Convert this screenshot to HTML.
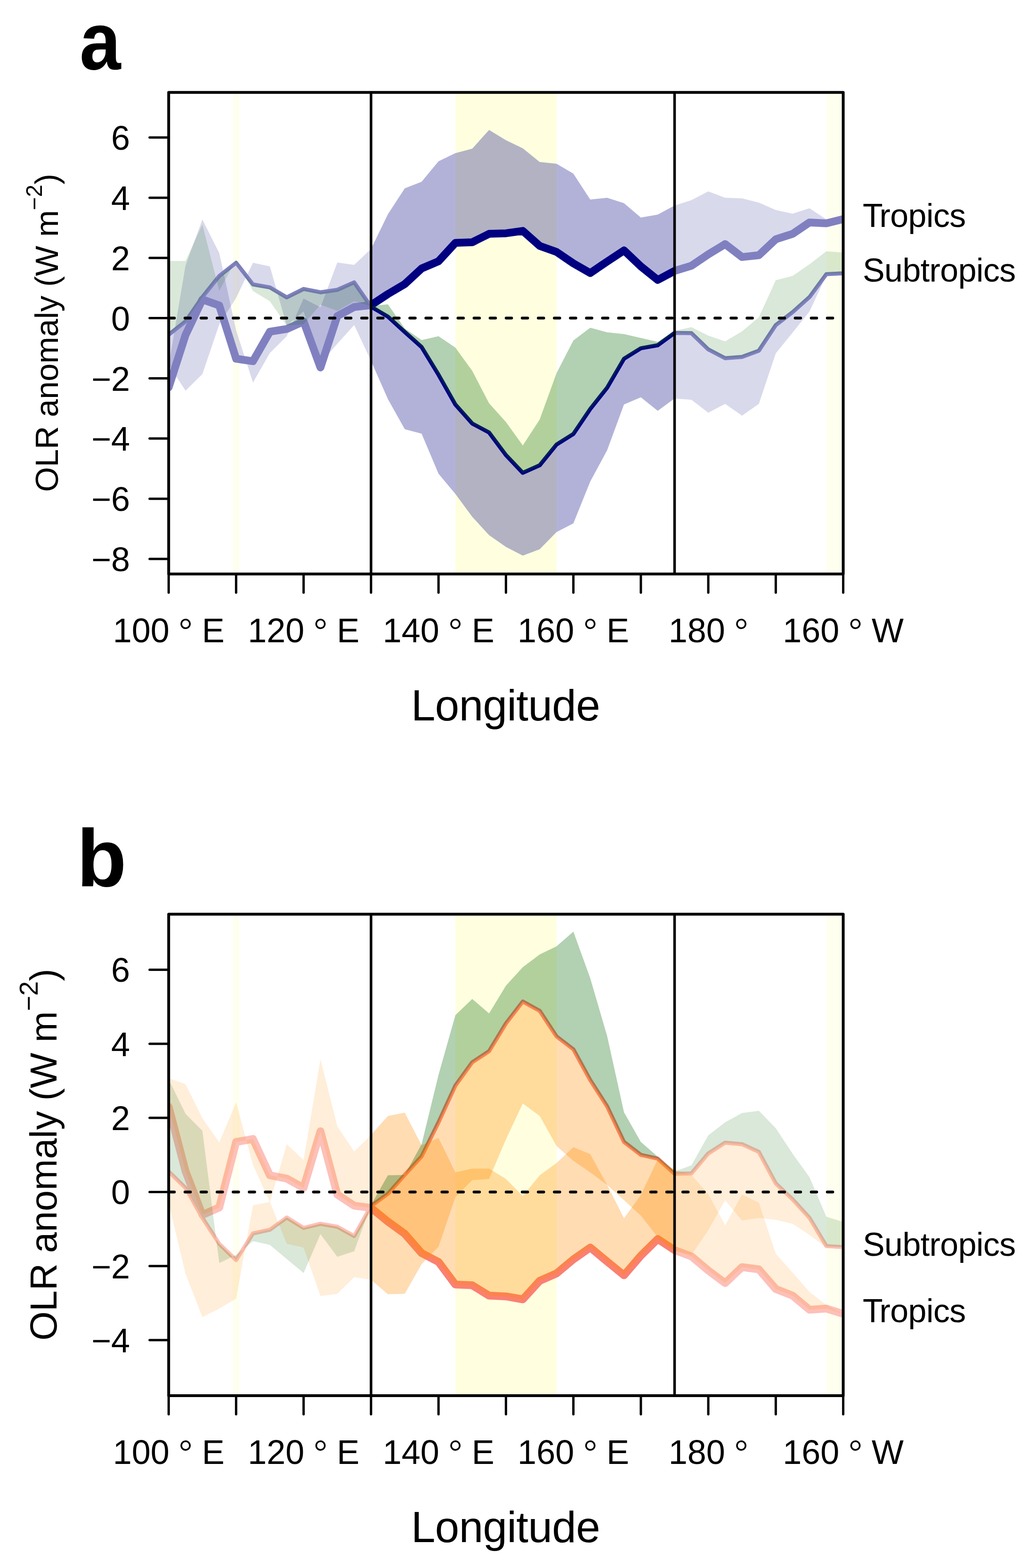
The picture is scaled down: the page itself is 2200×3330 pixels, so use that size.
<!DOCTYPE html><html><head><meta charset="utf-8"><title>OLR anomaly</title><style>html,body{margin:0;padding:0;background:#fff;overflow:hidden}svg{display:block}</style></head><body>
<svg xmlns="http://www.w3.org/2000/svg" width="2200" height="3330" viewBox="0 0 2200 3330" font-family="'Liberation Sans', Arial, Helvetica, sans-serif">
<rect width="2200" height="3330" fill="#fff"/>
<defs>
<clipPath id="ca"><rect x="358.2" y="196.2" width="1432.4" height="1022.8"/></clipPath>
<clipPath id="ia"><rect x="787.9" y="196.2" width="644.6" height="1022.8"/></clipPath>
<clipPath id="oa"><path d="M358.2,196.2H787.9V1219H358.2ZM1432.5,196.2H1790.6V1219H1432.5Z"/></clipPath>
<clipPath id="cb"><rect x="358.2" y="1941.4" width="1432.4" height="1022.6"/></clipPath>
<clipPath id="ib"><rect x="787.9" y="1941.4" width="644.6" height="1022.6"/></clipPath>
<clipPath id="ob"><path d="M358.2,1941.4H787.9V2964H358.2ZM1432.5,1941.4H1790.6V2964H1432.5Z"/></clipPath>
</defs>
<g clip-path="url(#ca)">
<rect x="967" y="196.2" width="214.9" height="1022.8" fill="#ffffe0"/>
<rect x="494.3" y="196.2" width="14.3" height="1022.8" fill="#ffffe0" fill-opacity="0.5"/>
<rect x="1754.8" y="196.2" width="40.8" height="1022.8" fill="#ffffe0" fill-opacity="0.5"/>
<g clip-path="url(#oa)">
<path d="M358.2,822.7 L394,711.4 L429.8,636 L465.6,648.8 L501.4,761.9 L537.2,767.1 L573.1,704.4 L608.9,698.7 L644.7,682.7 L680.5,780.5 L716.3,671.2 L752.1,652 L787.9,648.1 L823.7,624.5 L859.5,603.4 L895.3,570.2 L931.2,554.8 L967,515.8 L1002.8,514.5 L1038.6,496.6 L1074.4,495.4 L1110.2,490.3 L1146,522.2 L1181.8,535 L1217.6,559.3 L1253.4,579.8 L1289.3,555.5 L1325.1,531.8 L1360.9,565.7 L1396.7,594.5 L1432.5,575.3 L1468.3,564.4 L1504.1,540.1 L1539.9,518.4 L1575.7,545.9 L1611.5,542 L1647.4,508.2 L1683.2,496.6 L1719,472.4 L1754.8,474.3 L1790.6,465.3 L1790.6,465.3 L1754.8,466 L1719,442.3 L1683.2,453.8 L1647.4,446.1 L1611.5,430.2 L1575.7,421.2 L1539.9,419.9 L1504.1,406.5 L1468.3,425.1 L1432.5,436.6 L1396.7,455.7 L1360.9,462.1 L1325.1,431.4 L1289.3,419.9 L1253.4,423.8 L1217.6,368.8 L1181.8,347.7 L1146,343.9 L1110.2,315.1 L1074.4,297.8 L1038.6,276.1 L1002.8,315.7 L967,325.3 L931.2,342.6 L895.3,386.1 L859.5,400.1 L823.7,455.1 L787.9,528.6 L752.1,562.5 L716.3,557.4 L680.5,652.6 L644.7,634.1 L608.9,714 L573.1,749.8 L537.2,812.4 L501.4,701.2 L465.6,537.6 L429.8,466 L394,563.8 L358.2,776Z" fill="#000080" fill-opacity="0.15"/>
<path d="M358.2,710.8 L394,682.7 L429.8,630.9 L465.6,586.1 L501.4,558 L537.2,604 L573.1,610.4 L608.9,631.5 L644.7,613.6 L680.5,620.7 L716.3,615.5 L752.1,599.6 L787.9,651.3 L823.7,672.4 L859.5,705 L895.3,737 L931.2,795.8 L967,859.1 L1002.8,899.4 L1038.6,918.6 L1074.4,966.5 L1110.2,1004.2 L1146,988.2 L1181.8,944.1 L1217.6,921.7 L1253.4,868.7 L1289.3,823.3 L1325.1,761.9 L1360.9,739.6 L1396.7,733.2 L1432.5,707 L1468.3,707.6 L1504.1,742.1 L1539.9,760.7 L1575.7,758.1 L1611.5,744.7 L1647.4,690.3 L1683.2,662.9 L1719,630.9 L1754.8,582.3 L1790.6,580.4 L1790.6,582.9 L1754.8,584.9 L1719,661.6 L1683.2,706.3 L1647.4,750.4 L1611.5,857.8 L1575.7,882.8 L1539.9,857.8 L1504.1,876.4 L1468.3,848.9 L1432.5,846.3 L1396.7,872.5 L1360.9,843.8 L1325.1,859.1 L1289.3,956.3 L1253.4,1022.8 L1217.6,1111.6 L1181.8,1130.1 L1146,1166.6 L1110.2,1180 L1074.4,1161.5 L1038.6,1136.5 L1002.8,1097.5 L967,1049 L931.2,1006.1 L895.3,921.1 L859.5,911.5 L823.7,847.6 L787.9,766.4 L752.1,690.3 L716.3,730 L680.5,771.5 L644.7,661.6 L608.9,691.6 L573.1,565.7 L537.2,558 L501.4,632.8 L465.6,689.1 L429.8,794.5 L394,829.7 L358.2,774.7Z" fill="#000080" fill-opacity="0.15"/>
</g>
<g clip-path="url(#ia)">
<path d="M358.2,822.7 L394,711.4 L429.8,636 L465.6,648.8 L501.4,761.9 L537.2,767.1 L573.1,704.4 L608.9,698.7 L644.7,682.7 L680.5,780.5 L716.3,671.2 L752.1,652 L787.9,648.1 L823.7,624.5 L859.5,603.4 L895.3,570.2 L931.2,554.8 L967,515.8 L1002.8,514.5 L1038.6,496.6 L1074.4,495.4 L1110.2,490.3 L1146,522.2 L1181.8,535 L1217.6,559.3 L1253.4,579.8 L1289.3,555.5 L1325.1,531.8 L1360.9,565.7 L1396.7,594.5 L1432.5,575.3 L1468.3,564.4 L1504.1,540.1 L1539.9,518.4 L1575.7,545.9 L1611.5,542 L1647.4,508.2 L1683.2,496.6 L1719,472.4 L1754.8,474.3 L1790.6,465.3 L1790.6,465.3 L1754.8,466 L1719,442.3 L1683.2,453.8 L1647.4,446.1 L1611.5,430.2 L1575.7,421.2 L1539.9,419.9 L1504.1,406.5 L1468.3,425.1 L1432.5,436.6 L1396.7,455.7 L1360.9,462.1 L1325.1,431.4 L1289.3,419.9 L1253.4,423.8 L1217.6,368.8 L1181.8,347.7 L1146,343.9 L1110.2,315.1 L1074.4,297.8 L1038.6,276.1 L1002.8,315.7 L967,325.3 L931.2,342.6 L895.3,386.1 L859.5,400.1 L823.7,455.1 L787.9,528.6 L752.1,562.5 L716.3,557.4 L680.5,652.6 L644.7,634.1 L608.9,714 L573.1,749.8 L537.2,812.4 L501.4,701.2 L465.6,537.6 L429.8,466 L394,563.8 L358.2,776Z" fill="#000080" fill-opacity="0.3"/>
<path d="M358.2,710.8 L394,682.7 L429.8,630.9 L465.6,586.1 L501.4,558 L537.2,604 L573.1,610.4 L608.9,631.5 L644.7,613.6 L680.5,620.7 L716.3,615.5 L752.1,599.6 L787.9,651.3 L823.7,672.4 L859.5,705 L895.3,737 L931.2,795.8 L967,859.1 L1002.8,899.4 L1038.6,918.6 L1074.4,966.5 L1110.2,1004.2 L1146,988.2 L1181.8,944.1 L1217.6,921.7 L1253.4,868.7 L1289.3,823.3 L1325.1,761.9 L1360.9,739.6 L1396.7,733.2 L1432.5,707 L1468.3,707.6 L1504.1,742.1 L1539.9,760.7 L1575.7,758.1 L1611.5,744.7 L1647.4,690.3 L1683.2,662.9 L1719,630.9 L1754.8,582.3 L1790.6,580.4 L1790.6,582.9 L1754.8,584.9 L1719,661.6 L1683.2,706.3 L1647.4,750.4 L1611.5,857.8 L1575.7,882.8 L1539.9,857.8 L1504.1,876.4 L1468.3,848.9 L1432.5,846.3 L1396.7,872.5 L1360.9,843.8 L1325.1,859.1 L1289.3,956.3 L1253.4,1022.8 L1217.6,1111.6 L1181.8,1130.1 L1146,1166.6 L1110.2,1180 L1074.4,1161.5 L1038.6,1136.5 L1002.8,1097.5 L967,1049 L931.2,1006.1 L895.3,921.1 L859.5,911.5 L823.7,847.6 L787.9,766.4 L752.1,690.3 L716.3,730 L680.5,771.5 L644.7,661.6 L608.9,691.6 L573.1,565.7 L537.2,558 L501.4,632.8 L465.6,689.1 L429.8,794.5 L394,829.7 L358.2,774.7Z" fill="#000080" fill-opacity="0.3"/>
</g>
<g clip-path="url(#oa)">
<path d="M358.2,822.7 L394,711.4 L429.8,636 L465.6,648.8 L501.4,761.9 L537.2,767.1 L573.1,704.4 L608.9,698.7 L644.7,682.7 L680.5,780.5 L716.3,671.2 L752.1,652 L787.9,648.1 L823.7,624.5 L859.5,603.4 L895.3,570.2 L931.2,554.8 L967,515.8 L1002.8,514.5 L1038.6,496.6 L1074.4,495.4 L1110.2,490.3 L1146,522.2 L1181.8,535 L1217.6,559.3 L1253.4,579.8 L1289.3,555.5 L1325.1,531.8 L1360.9,565.7 L1396.7,594.5 L1432.5,575.3 L1468.3,564.4 L1504.1,540.1 L1539.9,518.4 L1575.7,545.9 L1611.5,542 L1647.4,508.2 L1683.2,496.6 L1719,472.4 L1754.8,474.3 L1790.6,465.3" fill="none" stroke="#8080c0" stroke-width="16.5" stroke-linejoin="round" stroke-linecap="round"/>
<path d="M358.2,710.8 L394,682.7 L429.8,630.9 L465.6,586.1 L501.4,558 L537.2,604 L573.1,610.4 L608.9,631.5 L644.7,613.6 L680.5,620.7 L716.3,615.5 L752.1,599.6 L787.9,651.3 L823.7,672.4 L859.5,705 L895.3,737 L931.2,795.8 L967,859.1 L1002.8,899.4 L1038.6,918.6 L1074.4,966.5 L1110.2,1004.2 L1146,988.2 L1181.8,944.1 L1217.6,921.7 L1253.4,868.7 L1289.3,823.3 L1325.1,761.9 L1360.9,739.6 L1396.7,733.2 L1432.5,707 L1468.3,707.6 L1504.1,742.1 L1539.9,760.7 L1575.7,758.1 L1611.5,744.7 L1647.4,690.3 L1683.2,662.9 L1719,630.9 L1754.8,582.3 L1790.6,580.4" fill="none" stroke="#8080c0" stroke-width="8.5" stroke-linejoin="round" stroke-linecap="round"/>
</g>
<g clip-path="url(#ia)">
<path d="M358.2,822.7 L394,711.4 L429.8,636 L465.6,648.8 L501.4,761.9 L537.2,767.1 L573.1,704.4 L608.9,698.7 L644.7,682.7 L680.5,780.5 L716.3,671.2 L752.1,652 L787.9,648.1 L823.7,624.5 L859.5,603.4 L895.3,570.2 L931.2,554.8 L967,515.8 L1002.8,514.5 L1038.6,496.6 L1074.4,495.4 L1110.2,490.3 L1146,522.2 L1181.8,535 L1217.6,559.3 L1253.4,579.8 L1289.3,555.5 L1325.1,531.8 L1360.9,565.7 L1396.7,594.5 L1432.5,575.3 L1468.3,564.4 L1504.1,540.1 L1539.9,518.4 L1575.7,545.9 L1611.5,542 L1647.4,508.2 L1683.2,496.6 L1719,472.4 L1754.8,474.3 L1790.6,465.3" fill="none" stroke="#000080" stroke-width="16.5" stroke-linejoin="round" stroke-linecap="round"/>
<path d="M358.2,710.8 L394,682.7 L429.8,630.9 L465.6,586.1 L501.4,558 L537.2,604 L573.1,610.4 L608.9,631.5 L644.7,613.6 L680.5,620.7 L716.3,615.5 L752.1,599.6 L787.9,651.3 L823.7,672.4 L859.5,705 L895.3,737 L931.2,795.8 L967,859.1 L1002.8,899.4 L1038.6,918.6 L1074.4,966.5 L1110.2,1004.2 L1146,988.2 L1181.8,944.1 L1217.6,921.7 L1253.4,868.7 L1289.3,823.3 L1325.1,761.9 L1360.9,739.6 L1396.7,733.2 L1432.5,707 L1468.3,707.6 L1504.1,742.1 L1539.9,760.7 L1575.7,758.1 L1611.5,744.7 L1647.4,690.3 L1683.2,662.9 L1719,630.9 L1754.8,582.3 L1790.6,580.4" fill="none" stroke="#000080" stroke-width="8.5" stroke-linejoin="round" stroke-linecap="round"/>
</g>
<g clip-path="url(#oa)">
<path d="M358.2,710.8 L394,682.7 L429.8,630.9 L465.6,586.1 L501.4,558 L537.2,604 L573.1,610.4 L608.9,631.5 L644.7,613.6 L680.5,620.7 L716.3,615.5 L752.1,599.6 L787.9,651.3 L823.7,672.4 L859.5,705 L895.3,737 L931.2,795.8 L967,859.1 L1002.8,899.4 L1038.6,918.6 L1074.4,966.5 L1110.2,1004.2 L1146,988.2 L1181.8,944.1 L1217.6,921.7 L1253.4,868.7 L1289.3,823.3 L1325.1,761.9 L1360.9,739.6 L1396.7,733.2 L1432.5,707 L1468.3,707.6 L1504.1,742.1 L1539.9,760.7 L1575.7,758.1 L1611.5,744.7 L1647.4,690.3 L1683.2,662.9 L1719,630.9 L1754.8,582.3 L1790.6,580.4 L1790.6,536.3 L1754.8,533.7 L1719,561.2 L1683.2,586.1 L1647.4,595.1 L1611.5,673.7 L1575.7,703.8 L1539.9,724.9 L1504.1,712.7 L1468.3,694.8 L1432.5,702.5 L1396.7,726.1 L1360.9,717.8 L1325.1,709.5 L1289.3,705.7 L1253.4,696.1 L1217.6,722.9 L1181.8,792.6 L1146,891.1 L1110.2,946 L1074.4,896.2 L1038.6,856.5 L1002.8,787.5 L967,738.3 L931.2,714 L895.3,722.3 L859.5,697.4 L823.7,646.2 L787.9,650.1 L752.1,639.8 L716.3,660.3 L680.5,646.9 L644.7,688.4 L608.9,691.6 L573.1,639.8 L537.2,618.1 L501.4,551.6 L465.6,617.5 L429.8,476.8 L394,554.2 L358.2,554.2Z" fill="#006400" fill-opacity="0.15"/>
</g>
<g clip-path="url(#ia)">
<path d="M358.2,710.8 L394,682.7 L429.8,630.9 L465.6,586.1 L501.4,558 L537.2,604 L573.1,610.4 L608.9,631.5 L644.7,613.6 L680.5,620.7 L716.3,615.5 L752.1,599.6 L787.9,651.3 L823.7,672.4 L859.5,705 L895.3,737 L931.2,795.8 L967,859.1 L1002.8,899.4 L1038.6,918.6 L1074.4,966.5 L1110.2,1004.2 L1146,988.2 L1181.8,944.1 L1217.6,921.7 L1253.4,868.7 L1289.3,823.3 L1325.1,761.9 L1360.9,739.6 L1396.7,733.2 L1432.5,707 L1468.3,707.6 L1504.1,742.1 L1539.9,760.7 L1575.7,758.1 L1611.5,744.7 L1647.4,690.3 L1683.2,662.9 L1719,630.9 L1754.8,582.3 L1790.6,580.4 L1790.6,536.3 L1754.8,533.7 L1719,561.2 L1683.2,586.1 L1647.4,595.1 L1611.5,673.7 L1575.7,703.8 L1539.9,724.9 L1504.1,712.7 L1468.3,694.8 L1432.5,702.5 L1396.7,726.1 L1360.9,717.8 L1325.1,709.5 L1289.3,705.7 L1253.4,696.1 L1217.6,722.9 L1181.8,792.6 L1146,891.1 L1110.2,946 L1074.4,896.2 L1038.6,856.5 L1002.8,787.5 L967,738.3 L931.2,714 L895.3,722.3 L859.5,697.4 L823.7,646.2 L787.9,650.1 L752.1,639.8 L716.3,660.3 L680.5,646.9 L644.7,688.4 L608.9,691.6 L573.1,639.8 L537.2,618.1 L501.4,551.6 L465.6,617.5 L429.8,476.8 L394,554.2 L358.2,554.2Z" fill="#006400" fill-opacity="0.3"/>
</g>
<line x1="358.7" y1="675.6" x2="1790.6" y2="675.6" stroke="#000" stroke-width="6" stroke-dasharray="11.6 22.5" stroke-linecap="round"/>
</g>
<line x1="787.9" y1="196.2" x2="787.9" y2="1219" stroke="#000" stroke-width="5.5"/>
<line x1="1432.5" y1="196.2" x2="1432.5" y2="1219" stroke="#000" stroke-width="5.5"/>
<rect x="358.2" y="196.2" width="1432.4" height="1022.8" fill="none" stroke="#000" stroke-width="6" stroke-linejoin="round"/>
<line x1="317.7" y1="292.1" x2="358.2" y2="292.1" stroke="#000" stroke-width="5" stroke-linecap="round"/>
<text x="276" y="318.1" font-size="72" text-anchor="end">6</text>
<line x1="317.7" y1="419.9" x2="358.2" y2="419.9" stroke="#000" stroke-width="5" stroke-linecap="round"/>
<text x="276" y="445.9" font-size="72" text-anchor="end">4</text>
<line x1="317.7" y1="547.8" x2="358.2" y2="547.8" stroke="#000" stroke-width="5" stroke-linecap="round"/>
<text x="276" y="573.8" font-size="72" text-anchor="end">2</text>
<line x1="317.7" y1="675.6" x2="358.2" y2="675.6" stroke="#000" stroke-width="5" stroke-linecap="round"/>
<text x="276" y="701.6" font-size="72" text-anchor="end">0</text>
<line x1="317.7" y1="803.5" x2="358.2" y2="803.5" stroke="#000" stroke-width="5" stroke-linecap="round"/>
<text x="276" y="829.5" font-size="72" text-anchor="end">−2</text>
<line x1="317.7" y1="931.3" x2="358.2" y2="931.3" stroke="#000" stroke-width="5" stroke-linecap="round"/>
<text x="276" y="957.3" font-size="72" text-anchor="end">−4</text>
<line x1="317.7" y1="1059.2" x2="358.2" y2="1059.2" stroke="#000" stroke-width="5" stroke-linecap="round"/>
<text x="276" y="1085.2" font-size="72" text-anchor="end">−6</text>
<line x1="317.7" y1="1187" x2="358.2" y2="1187" stroke="#000" stroke-width="5" stroke-linecap="round"/>
<text x="276" y="1213" font-size="72" text-anchor="end">−8</text>
<line x1="358.2" y1="1219" x2="358.2" y2="1258.5" stroke="#000" stroke-width="5" stroke-linecap="round"/>
<line x1="501.4" y1="1219" x2="501.4" y2="1258.5" stroke="#000" stroke-width="5" stroke-linecap="round"/>
<line x1="644.7" y1="1219" x2="644.7" y2="1258.5" stroke="#000" stroke-width="5" stroke-linecap="round"/>
<line x1="787.9" y1="1219" x2="787.9" y2="1258.5" stroke="#000" stroke-width="5" stroke-linecap="round"/>
<line x1="931.2" y1="1219" x2="931.2" y2="1258.5" stroke="#000" stroke-width="5" stroke-linecap="round"/>
<line x1="1074.4" y1="1219" x2="1074.4" y2="1258.5" stroke="#000" stroke-width="5" stroke-linecap="round"/>
<line x1="1217.6" y1="1219" x2="1217.6" y2="1258.5" stroke="#000" stroke-width="5" stroke-linecap="round"/>
<line x1="1360.9" y1="1219" x2="1360.9" y2="1258.5" stroke="#000" stroke-width="5" stroke-linecap="round"/>
<line x1="1504.1" y1="1219" x2="1504.1" y2="1258.5" stroke="#000" stroke-width="5" stroke-linecap="round"/>
<line x1="1647.4" y1="1219" x2="1647.4" y2="1258.5" stroke="#000" stroke-width="5" stroke-linecap="round"/>
<line x1="1790.6" y1="1219" x2="1790.6" y2="1258.5" stroke="#000" stroke-width="5" stroke-linecap="round"/>
<text x="358.2" y="1364.2" font-size="72" text-anchor="middle">100 <tspan font-family="'Liberation Serif', serif" dy="-2.5">°</tspan><tspan dy="2.5"> E</tspan></text>
<text x="644.7" y="1364.2" font-size="72" text-anchor="middle">120 <tspan font-family="'Liberation Serif', serif" dy="-2.5">°</tspan><tspan dy="2.5"> E</tspan></text>
<text x="931.2" y="1364.2" font-size="72" text-anchor="middle">140 <tspan font-family="'Liberation Serif', serif" dy="-2.5">°</tspan><tspan dy="2.5"> E</tspan></text>
<text x="1217.6" y="1364.2" font-size="72" text-anchor="middle">160 <tspan font-family="'Liberation Serif', serif" dy="-2.5">°</tspan><tspan dy="2.5"> E</tspan></text>
<text x="1504.1" y="1364.2" font-size="72" text-anchor="middle">180 <tspan font-family="'Liberation Serif', serif" dy="-2.5">°</tspan><tspan dy="2.5"></tspan></text>
<text x="1790.6" y="1364.2" font-size="72" text-anchor="middle">160 <tspan font-family="'Liberation Serif', serif" dy="-2.5">°</tspan><tspan dy="2.5"> W</tspan></text>
<text x="1073.5" y="1529.6" font-size="92.5" text-anchor="middle" letter-spacing="-0.6">Longitude</text>
<g clip-path="url(#cb)">
<rect x="967" y="1941.4" width="214.9" height="1022.6" fill="#ffffe0"/>
<rect x="494.3" y="1941.4" width="14.3" height="1022.6" fill="#ffffe0" fill-opacity="0.5"/>
<rect x="1754.8" y="1941.4" width="40.8" height="1022.6" fill="#ffffe0" fill-opacity="0.5"/>
<g clip-path="url(#ob)">
<path d="M358.2,2350.4 L394,2487.3 L429.8,2580.1 L465.6,2564.4 L501.4,2425.2 L537.2,2418.9 L573.1,2496 L608.9,2503 L644.7,2522.7 L680.5,2402.4 L716.3,2536.9 L752.1,2560.5 L787.9,2565.2 L823.7,2594.3 L859.5,2620.2 L895.3,2661.2 L931.2,2680 L967,2728 L1002.8,2729.6 L1038.6,2751.6 L1074.4,2753.2 L1110.2,2759.5 L1146,2720.1 L1181.8,2704.4 L1217.6,2674.5 L1253.4,2649.4 L1289.3,2679.2 L1325.1,2708.3 L1360.9,2666.7 L1396.7,2631.3 L1432.5,2654.9 L1468.3,2668.2 L1504.1,2698.1 L1539.9,2724.9 L1575.7,2691 L1611.5,2695.8 L1647.4,2737.5 L1683.2,2751.6 L1719,2781.5 L1754.8,2779.1 L1790.6,2790.2" fill="none" stroke="#fdc0b9" stroke-width="16.5" stroke-linejoin="round" stroke-linecap="round"/>
<path d="M358.2,2488.1 L394,2522.7 L429.8,2586.4 L465.6,2641.5 L501.4,2676.1 L537.2,2619.5 L573.1,2611.6 L608.9,2585.6 L644.7,2607.7 L680.5,2599 L716.3,2605.3 L752.1,2625 L787.9,2561.3 L823.7,2535.3 L859.5,2495.2 L895.3,2455.8 L931.2,2383.5 L967,2305.6 L1002.8,2256 L1038.6,2232.4 L1074.4,2173.5 L1110.2,2127 L1146,2146.7 L1181.8,2201 L1217.6,2228.5 L1253.4,2293.8 L1289.3,2349.7 L1325.1,2425.2 L1360.9,2452.7 L1396.7,2460.6 L1432.5,2492.8 L1468.3,2492 L1504.1,2449.6 L1539.9,2426.7 L1575.7,2429.9 L1611.5,2446.4 L1647.4,2513.3 L1683.2,2547.1 L1719,2586.4 L1754.8,2646.2 L1790.6,2648.6" fill="none" stroke="#fdc0b9" stroke-width="8.5" stroke-linejoin="round" stroke-linecap="round"/>
</g>
<g clip-path="url(#ib)">
<path d="M358.2,2350.4 L394,2487.3 L429.8,2580.1 L465.6,2564.4 L501.4,2425.2 L537.2,2418.9 L573.1,2496 L608.9,2503 L644.7,2522.7 L680.5,2402.4 L716.3,2536.9 L752.1,2560.5 L787.9,2565.2 L823.7,2594.3 L859.5,2620.2 L895.3,2661.2 L931.2,2680 L967,2728 L1002.8,2729.6 L1038.6,2751.6 L1074.4,2753.2 L1110.2,2759.5 L1146,2720.1 L1181.8,2704.4 L1217.6,2674.5 L1253.4,2649.4 L1289.3,2679.2 L1325.1,2708.3 L1360.9,2666.7 L1396.7,2631.3 L1432.5,2654.9 L1468.3,2668.2 L1504.1,2698.1 L1539.9,2724.9 L1575.7,2691 L1611.5,2695.8 L1647.4,2737.5 L1683.2,2751.6 L1719,2781.5 L1754.8,2779.1 L1790.6,2790.2" fill="none" stroke="#fa8072" stroke-width="16.5" stroke-linejoin="round" stroke-linecap="round"/>
<path d="M358.2,2488.1 L394,2522.7 L429.8,2586.4 L465.6,2641.5 L501.4,2676.1 L537.2,2619.5 L573.1,2611.6 L608.9,2585.6 L644.7,2607.7 L680.5,2599 L716.3,2605.3 L752.1,2625 L787.9,2561.3 L823.7,2535.3 L859.5,2495.2 L895.3,2455.8 L931.2,2383.5 L967,2305.6 L1002.8,2256 L1038.6,2232.4 L1074.4,2173.5 L1110.2,2127 L1146,2146.7 L1181.8,2201 L1217.6,2228.5 L1253.4,2293.8 L1289.3,2349.7 L1325.1,2425.2 L1360.9,2452.7 L1396.7,2460.6 L1432.5,2492.8 L1468.3,2492 L1504.1,2449.6 L1539.9,2426.7 L1575.7,2429.9 L1611.5,2446.4 L1647.4,2513.3 L1683.2,2547.1 L1719,2586.4 L1754.8,2646.2 L1790.6,2648.6" fill="none" stroke="#fa8072" stroke-width="8.5" stroke-linejoin="round" stroke-linecap="round"/>
</g>
<g clip-path="url(#ob)">
<path d="M358.2,2350.4 L394,2487.3 L429.8,2580.1 L465.6,2564.4 L501.4,2425.2 L537.2,2418.9 L573.1,2496 L608.9,2503 L644.7,2522.7 L680.5,2402.4 L716.3,2536.9 L752.1,2560.5 L787.9,2565.2 L823.7,2594.3 L859.5,2620.2 L895.3,2661.2 L931.2,2680 L967,2728 L1002.8,2729.6 L1038.6,2751.6 L1074.4,2753.2 L1110.2,2759.5 L1146,2720.1 L1181.8,2704.4 L1217.6,2674.5 L1253.4,2649.4 L1289.3,2679.2 L1325.1,2708.3 L1360.9,2666.7 L1396.7,2631.3 L1432.5,2654.9 L1468.3,2668.2 L1504.1,2698.1 L1539.9,2724.9 L1575.7,2691 L1611.5,2695.8 L1647.4,2737.5 L1683.2,2751.6 L1719,2781.5 L1754.8,2779.1 L1790.6,2790.2 L1790.6,2790.9 L1754.8,2771.3 L1719,2743.7 L1683.2,2702.8 L1647.4,2662.7 L1611.5,2554.2 L1575.7,2536.9 L1539.9,2602.2 L1504.1,2536.1 L1468.3,2495.2 L1432.5,2484.2 L1396.7,2462.1 L1360.9,2537.7 L1325.1,2587.2 L1289.3,2516.4 L1253.4,2451.1 L1217.6,2436.2 L1181.8,2470 L1146,2496 L1110.2,2540 L1074.4,2503.8 L1038.6,2481.8 L1002.8,2481.8 L967,2489.7 L931.2,2416.5 L895.3,2432.2 L859.5,2363 L823.7,2370.1 L787.9,2410.2 L752.1,2445.6 L716.3,2392.1 L680.5,2249.8 L644.7,2463.7 L608.9,2429.9 L573.1,2553.4 L537.2,2473.9 L501.4,2341 L465.6,2426 L429.8,2374.8 L394,2302.5 L358.2,2289.9Z" fill="#ff8c00" fill-opacity="0.15"/>
<path d="M358.2,2488.1 L394,2522.7 L429.8,2586.4 L465.6,2641.5 L501.4,2676.1 L537.2,2619.5 L573.1,2611.6 L608.9,2585.6 L644.7,2607.7 L680.5,2599 L716.3,2605.3 L752.1,2625 L787.9,2561.3 L823.7,2535.3 L859.5,2495.2 L895.3,2455.8 L931.2,2383.5 L967,2305.6 L1002.8,2256 L1038.6,2232.4 L1074.4,2173.5 L1110.2,2127 L1146,2146.7 L1181.8,2201 L1217.6,2228.5 L1253.4,2293.8 L1289.3,2349.7 L1325.1,2425.2 L1360.9,2452.7 L1396.7,2460.6 L1432.5,2492.8 L1468.3,2492 L1504.1,2449.6 L1539.9,2426.7 L1575.7,2429.9 L1611.5,2446.4 L1647.4,2513.3 L1683.2,2547.1 L1719,2586.4 L1754.8,2646.2 L1790.6,2648.6 L1790.6,2647.8 L1754.8,2649.4 L1719,2622.6 L1683.2,2599 L1647.4,2590.4 L1611.5,2586.4 L1575.7,2591.9 L1539.9,2548.7 L1504.1,2612.4 L1468.3,2665.1 L1432.5,2657.2 L1396.7,2627.3 L1360.9,2581.7 L1325.1,2548.7 L1289.3,2516.4 L1253.4,2489.7 L1217.6,2465.3 L1181.8,2433.8 L1146,2370.1 L1110.2,2343.4 L1074.4,2419.7 L1038.6,2503.8 L1002.8,2506.2 L967,2542.4 L931.2,2647.8 L895.3,2684.8 L859.5,2747.7 L823.7,2748.5 L787.9,2717.8 L752.1,2712.3 L716.3,2747.7 L680.5,2752.4 L644.7,2649.4 L608.9,2641.5 L573.1,2552.6 L537.2,2559.7 L501.4,2757.9 L465.6,2779.1 L429.8,2797.2 L394,2705.2 L358.2,2555Z" fill="#ff8c00" fill-opacity="0.15"/>
<path d="M358.2,2488.1 L394,2522.7 L429.8,2586.4 L465.6,2641.5 L501.4,2676.1 L537.2,2619.5 L573.1,2611.6 L608.9,2585.6 L644.7,2607.7 L680.5,2599 L716.3,2605.3 L752.1,2625 L787.9,2561.3 L823.7,2535.3 L859.5,2495.2 L895.3,2455.8 L931.2,2383.5 L967,2305.6 L1002.8,2256 L1038.6,2232.4 L1074.4,2173.5 L1110.2,2127 L1146,2146.7 L1181.8,2201 L1217.6,2228.5 L1253.4,2293.8 L1289.3,2349.7 L1325.1,2425.2 L1360.9,2452.7 L1396.7,2460.6 L1432.5,2492.8 L1468.3,2492 L1504.1,2449.6 L1539.9,2426.7 L1575.7,2429.9 L1611.5,2446.4 L1647.4,2513.3 L1683.2,2547.1 L1719,2586.4 L1754.8,2646.2 L1790.6,2648.6 L1790.6,2595.1 L1754.8,2584.1 L1719,2499.9 L1683.2,2450.3 L1647.4,2396.1 L1611.5,2359.1 L1575.7,2363.8 L1539.9,2383.5 L1504.1,2411 L1468.3,2474.7 L1432.5,2488.1 L1396.7,2456.6 L1360.9,2425.2 L1325.1,2362.2 L1289.3,2200.2 L1253.4,2077.5 L1217.6,1978.4 L1181.8,2009.8 L1146,2027.1 L1110.2,2053.9 L1074.4,2093.2 L1038.6,2152.2 L1002.8,2121.5 L967,2156.1 L931.2,2282.8 L895.3,2429.9 L859.5,2495.2 L823.7,2496 L787.9,2558.9 L752.1,2657.2 L716.3,2669 L680.5,2621 L644.7,2703.6 L608.9,2673.7 L573.1,2643.8 L537.2,2636 L501.4,2665.1 L465.6,2682.4 L429.8,2401.6 L394,2365.4 L358.2,2292.2Z" fill="#006400" fill-opacity="0.15"/>
</g>
<g clip-path="url(#ib)">
<path d="M358.2,2350.4 L394,2487.3 L429.8,2580.1 L465.6,2564.4 L501.4,2425.2 L537.2,2418.9 L573.1,2496 L608.9,2503 L644.7,2522.7 L680.5,2402.4 L716.3,2536.9 L752.1,2560.5 L787.9,2565.2 L823.7,2594.3 L859.5,2620.2 L895.3,2661.2 L931.2,2680 L967,2728 L1002.8,2729.6 L1038.6,2751.6 L1074.4,2753.2 L1110.2,2759.5 L1146,2720.1 L1181.8,2704.4 L1217.6,2674.5 L1253.4,2649.4 L1289.3,2679.2 L1325.1,2708.3 L1360.9,2666.7 L1396.7,2631.3 L1432.5,2654.9 L1468.3,2668.2 L1504.1,2698.1 L1539.9,2724.9 L1575.7,2691 L1611.5,2695.8 L1647.4,2737.5 L1683.2,2751.6 L1719,2781.5 L1754.8,2779.1 L1790.6,2790.2 L1790.6,2790.9 L1754.8,2771.3 L1719,2743.7 L1683.2,2702.8 L1647.4,2662.7 L1611.5,2554.2 L1575.7,2536.9 L1539.9,2602.2 L1504.1,2536.1 L1468.3,2495.2 L1432.5,2484.2 L1396.7,2462.1 L1360.9,2537.7 L1325.1,2587.2 L1289.3,2516.4 L1253.4,2451.1 L1217.6,2436.2 L1181.8,2470 L1146,2496 L1110.2,2540 L1074.4,2503.8 L1038.6,2481.8 L1002.8,2481.8 L967,2489.7 L931.2,2416.5 L895.3,2432.2 L859.5,2363 L823.7,2370.1 L787.9,2410.2 L752.1,2445.6 L716.3,2392.1 L680.5,2249.8 L644.7,2463.7 L608.9,2429.9 L573.1,2553.4 L537.2,2473.9 L501.4,2341 L465.6,2426 L429.8,2374.8 L394,2302.5 L358.2,2289.9Z" fill="#ff8c00" fill-opacity="0.3"/>
<path d="M358.2,2488.1 L394,2522.7 L429.8,2586.4 L465.6,2641.5 L501.4,2676.1 L537.2,2619.5 L573.1,2611.6 L608.9,2585.6 L644.7,2607.7 L680.5,2599 L716.3,2605.3 L752.1,2625 L787.9,2561.3 L823.7,2535.3 L859.5,2495.2 L895.3,2455.8 L931.2,2383.5 L967,2305.6 L1002.8,2256 L1038.6,2232.4 L1074.4,2173.5 L1110.2,2127 L1146,2146.7 L1181.8,2201 L1217.6,2228.5 L1253.4,2293.8 L1289.3,2349.7 L1325.1,2425.2 L1360.9,2452.7 L1396.7,2460.6 L1432.5,2492.8 L1468.3,2492 L1504.1,2449.6 L1539.9,2426.7 L1575.7,2429.9 L1611.5,2446.4 L1647.4,2513.3 L1683.2,2547.1 L1719,2586.4 L1754.8,2646.2 L1790.6,2648.6 L1790.6,2647.8 L1754.8,2649.4 L1719,2622.6 L1683.2,2599 L1647.4,2590.4 L1611.5,2586.4 L1575.7,2591.9 L1539.9,2548.7 L1504.1,2612.4 L1468.3,2665.1 L1432.5,2657.2 L1396.7,2627.3 L1360.9,2581.7 L1325.1,2548.7 L1289.3,2516.4 L1253.4,2489.7 L1217.6,2465.3 L1181.8,2433.8 L1146,2370.1 L1110.2,2343.4 L1074.4,2419.7 L1038.6,2503.8 L1002.8,2506.2 L967,2542.4 L931.2,2647.8 L895.3,2684.8 L859.5,2747.7 L823.7,2748.5 L787.9,2717.8 L752.1,2712.3 L716.3,2747.7 L680.5,2752.4 L644.7,2649.4 L608.9,2641.5 L573.1,2552.6 L537.2,2559.7 L501.4,2757.9 L465.6,2779.1 L429.8,2797.2 L394,2705.2 L358.2,2555Z" fill="#ff8c00" fill-opacity="0.3"/>
<path d="M358.2,2488.1 L394,2522.7 L429.8,2586.4 L465.6,2641.5 L501.4,2676.1 L537.2,2619.5 L573.1,2611.6 L608.9,2585.6 L644.7,2607.7 L680.5,2599 L716.3,2605.3 L752.1,2625 L787.9,2561.3 L823.7,2535.3 L859.5,2495.2 L895.3,2455.8 L931.2,2383.5 L967,2305.6 L1002.8,2256 L1038.6,2232.4 L1074.4,2173.5 L1110.2,2127 L1146,2146.7 L1181.8,2201 L1217.6,2228.5 L1253.4,2293.8 L1289.3,2349.7 L1325.1,2425.2 L1360.9,2452.7 L1396.7,2460.6 L1432.5,2492.8 L1468.3,2492 L1504.1,2449.6 L1539.9,2426.7 L1575.7,2429.9 L1611.5,2446.4 L1647.4,2513.3 L1683.2,2547.1 L1719,2586.4 L1754.8,2646.2 L1790.6,2648.6 L1790.6,2595.1 L1754.8,2584.1 L1719,2499.9 L1683.2,2450.3 L1647.4,2396.1 L1611.5,2359.1 L1575.7,2363.8 L1539.9,2383.5 L1504.1,2411 L1468.3,2474.7 L1432.5,2488.1 L1396.7,2456.6 L1360.9,2425.2 L1325.1,2362.2 L1289.3,2200.2 L1253.4,2077.5 L1217.6,1978.4 L1181.8,2009.8 L1146,2027.1 L1110.2,2053.9 L1074.4,2093.2 L1038.6,2152.2 L1002.8,2121.5 L967,2156.1 L931.2,2282.8 L895.3,2429.9 L859.5,2495.2 L823.7,2496 L787.9,2558.9 L752.1,2657.2 L716.3,2669 L680.5,2621 L644.7,2703.6 L608.9,2673.7 L573.1,2643.8 L537.2,2636 L501.4,2665.1 L465.6,2682.4 L429.8,2401.6 L394,2365.4 L358.2,2292.2Z" fill="#006400" fill-opacity="0.3"/>
</g>
<line x1="358.7" y1="2531.4" x2="1790.6" y2="2531.4" stroke="#000" stroke-width="6" stroke-dasharray="11.6 22.5" stroke-linecap="round"/>
</g>
<line x1="787.9" y1="1941.4" x2="787.9" y2="2964" stroke="#000" stroke-width="5.5"/>
<line x1="1432.5" y1="1941.4" x2="1432.5" y2="2964" stroke="#000" stroke-width="5.5"/>
<rect x="358.2" y="1941.4" width="1432.4" height="1022.6" fill="none" stroke="#000" stroke-width="6" stroke-linejoin="round"/>
<line x1="317.7" y1="2059.4" x2="358.2" y2="2059.4" stroke="#000" stroke-width="5" stroke-linecap="round"/>
<text x="276" y="2085.4" font-size="72" text-anchor="end">6</text>
<line x1="317.7" y1="2216.7" x2="358.2" y2="2216.7" stroke="#000" stroke-width="5" stroke-linecap="round"/>
<text x="276" y="2242.7" font-size="72" text-anchor="end">4</text>
<line x1="317.7" y1="2374" x2="358.2" y2="2374" stroke="#000" stroke-width="5" stroke-linecap="round"/>
<text x="276" y="2400" font-size="72" text-anchor="end">2</text>
<line x1="317.7" y1="2531.4" x2="358.2" y2="2531.4" stroke="#000" stroke-width="5" stroke-linecap="round"/>
<text x="276" y="2557.4" font-size="72" text-anchor="end">0</text>
<line x1="317.7" y1="2688.7" x2="358.2" y2="2688.7" stroke="#000" stroke-width="5" stroke-linecap="round"/>
<text x="276" y="2714.7" font-size="72" text-anchor="end">−2</text>
<line x1="317.7" y1="2846" x2="358.2" y2="2846" stroke="#000" stroke-width="5" stroke-linecap="round"/>
<text x="276" y="2872" font-size="72" text-anchor="end">−4</text>
<line x1="358.2" y1="2964" x2="358.2" y2="3003.5" stroke="#000" stroke-width="5" stroke-linecap="round"/>
<line x1="501.4" y1="2964" x2="501.4" y2="3003.5" stroke="#000" stroke-width="5" stroke-linecap="round"/>
<line x1="644.7" y1="2964" x2="644.7" y2="3003.5" stroke="#000" stroke-width="5" stroke-linecap="round"/>
<line x1="787.9" y1="2964" x2="787.9" y2="3003.5" stroke="#000" stroke-width="5" stroke-linecap="round"/>
<line x1="931.2" y1="2964" x2="931.2" y2="3003.5" stroke="#000" stroke-width="5" stroke-linecap="round"/>
<line x1="1074.4" y1="2964" x2="1074.4" y2="3003.5" stroke="#000" stroke-width="5" stroke-linecap="round"/>
<line x1="1217.6" y1="2964" x2="1217.6" y2="3003.5" stroke="#000" stroke-width="5" stroke-linecap="round"/>
<line x1="1360.9" y1="2964" x2="1360.9" y2="3003.5" stroke="#000" stroke-width="5" stroke-linecap="round"/>
<line x1="1504.1" y1="2964" x2="1504.1" y2="3003.5" stroke="#000" stroke-width="5" stroke-linecap="round"/>
<line x1="1647.4" y1="2964" x2="1647.4" y2="3003.5" stroke="#000" stroke-width="5" stroke-linecap="round"/>
<line x1="1790.6" y1="2964" x2="1790.6" y2="3003.5" stroke="#000" stroke-width="5" stroke-linecap="round"/>
<text x="358.2" y="3109.2" font-size="72" text-anchor="middle">100 <tspan font-family="'Liberation Serif', serif" dy="-2.5">°</tspan><tspan dy="2.5"> E</tspan></text>
<text x="644.7" y="3109.2" font-size="72" text-anchor="middle">120 <tspan font-family="'Liberation Serif', serif" dy="-2.5">°</tspan><tspan dy="2.5"> E</tspan></text>
<text x="931.2" y="3109.2" font-size="72" text-anchor="middle">140 <tspan font-family="'Liberation Serif', serif" dy="-2.5">°</tspan><tspan dy="2.5"> E</tspan></text>
<text x="1217.6" y="3109.2" font-size="72" text-anchor="middle">160 <tspan font-family="'Liberation Serif', serif" dy="-2.5">°</tspan><tspan dy="2.5"> E</tspan></text>
<text x="1504.1" y="3109.2" font-size="72" text-anchor="middle">180 <tspan font-family="'Liberation Serif', serif" dy="-2.5">°</tspan><tspan dy="2.5"></tspan></text>
<text x="1790.6" y="3109.2" font-size="72" text-anchor="middle">160 <tspan font-family="'Liberation Serif', serif" dy="-2.5">°</tspan><tspan dy="2.5"> W</tspan></text>
<text x="1073.5" y="3274.6" font-size="92.5" text-anchor="middle" letter-spacing="-0.6">Longitude</text>
<text transform="translate(122.6,707) rotate(-90)" font-size="68.2" text-anchor="middle">OLR anomaly (W m<tspan font-size="47.7" dy="-34.1">−2</tspan><tspan dy="34.1">)</tspan></text>
<text transform="translate(120.2,2452) rotate(-90)" font-size="79.7" text-anchor="middle">OLR anomaly (W m<tspan font-size="55.8" dy="-39.9">−2</tspan><tspan dy="39.9">)</tspan></text>
<text transform="translate(169,147) scale(0.91,1)" font-size="173" font-weight="bold">a</text>
<text x="163" y="1882" font-size="173" font-weight="bold">b</text>
<text x="1832" y="482" font-size="70" letter-spacing="-0.6">T<tspan dx="-4">r</tspan>opics</text>
<text x="1832" y="597.9" font-size="70" letter-spacing="-0.6">Subtropics</text>
<text x="1832" y="2666.9" font-size="70" letter-spacing="-0.6">Subtropics</text>
<text x="1832" y="2808.1" font-size="70" letter-spacing="-0.6">T<tspan dx="-4">r</tspan>opics</text>
</svg></body></html>
